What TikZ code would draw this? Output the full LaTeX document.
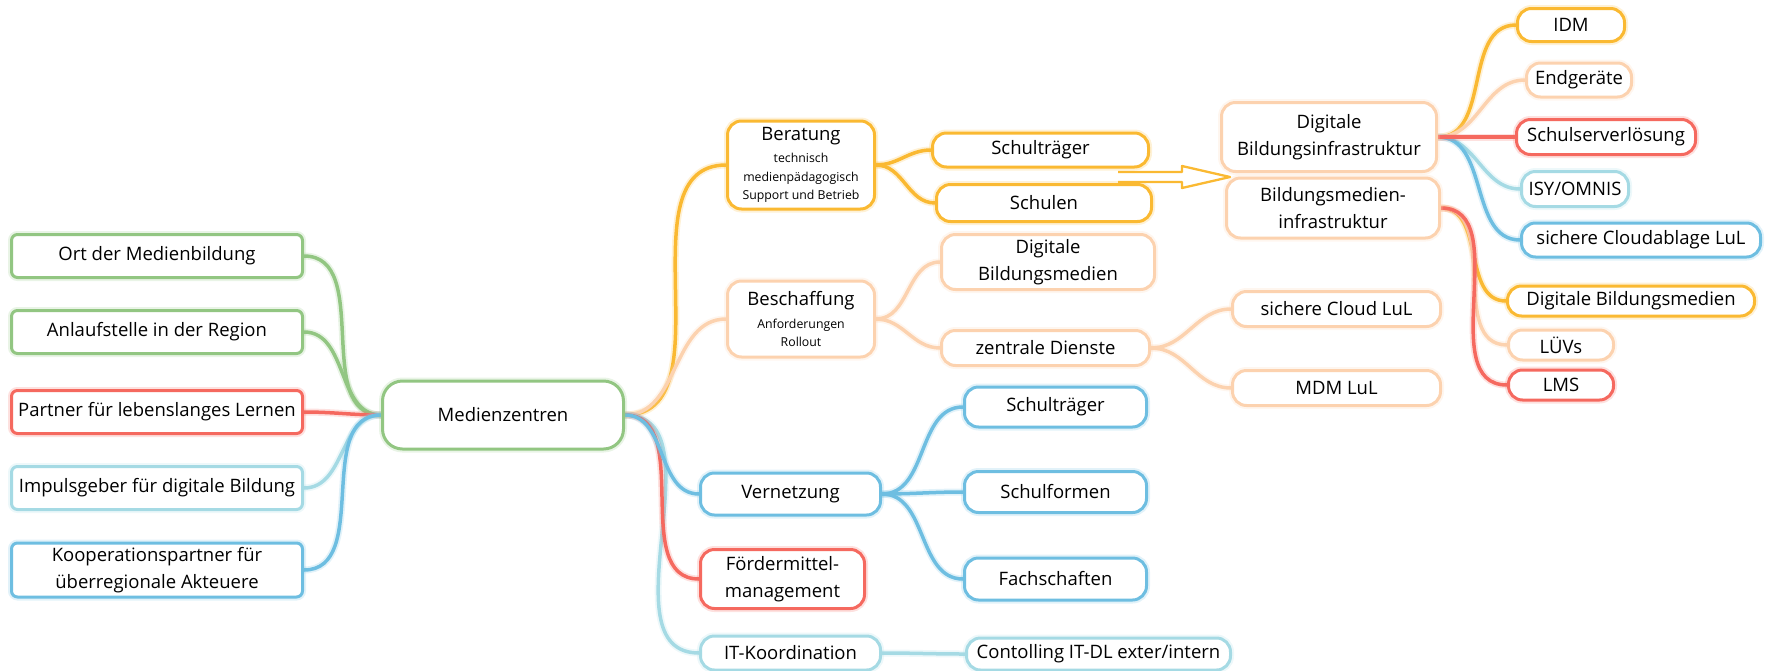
\documentclass[tikz,border=0pt]{standalone}
\usepackage{fontspec}
\setmainfont{Open Sans}
\usetikzlibrary{backgrounds}

\definecolor{gruen}{RGB}{146,198,130}
\definecolor{rot}{RGB}{245,105,95}
\definecolor{hellblau}{RGB}{165,218,228}
\definecolor{blau}{RGB}{110,190,225}
\definecolor{gelb}{RGB}{250,185,50}
\definecolor{pfirsich}{RGB}{252,210,175}

\newcommand{\gross}{\fontsize{18.5}{27}\selectfont}
\newcommand{\klein}{\fontsize{12.3}{18.5}\selectfont}

\begin{document}
\begin{tikzpicture}[x=1pt, y=-1pt, line width=3pt, font=\gross,
	rahmen/.style = {draw=#1, preaction={draw=#1, line width=7pt, draw opacity=0.2}},
	box/.style = {rounded corners=14pt, fill=white, align=center, inner sep=0pt, anchor=west},
	seite/.style = {rounded corners=6pt, fill=white, align=center, inner sep=0pt, minimum width=291pt},
	astr/.style = {line width=3.5pt, out=0, in=180},
	astl/.style = {line width=3.5pt, out=180, in=0}]
		\useasboundingbox (0,0) rectangle (1767,670);
		
		%Left column of the map
		\node[seite, rahmen=gruen, minimum height=43pt] (ort) at (157,256) {Ort der Medienbildung};
		\node[seite, rahmen=gruen, minimum height=43pt] (anl) [node distance=76pt, below of=ort] {Anlaufstelle in der Region};
		\node[seite, rahmen=rot, minimum height=43pt] (part) [node distance=80pt, below of=anl] {Partner für lebenslanges Lernen};
		\node[seite, rahmen=hellblau, minimum height=43pt] (imp) [node distance=76pt, below of=part] {Impulsgeber für digitale Bildung};
		\node[seite, rahmen=blau, minimum height=54pt] (koop) [node distance=82pt, below of=imp] {Kooperationspartner für\\überregionale Akteuere};
		
		%Center
		\node[box, rahmen=gruen, minimum width=241pt, minimum height=68pt, rounded corners=20pt] (mz) at (381,415) {Medienzentren};
		
		%Second level
		\node[box, rahmen=gelb, font=\klein, minimum width=147pt, minimum height=88pt] (ber) at (726,165) {{\gross Beratung}\\[4pt]technisch\\medienpädagogisch\\Support und Betrieb};
		\node[box, rahmen=pfirsich, font=\klein, minimum width=147pt, minimum height=76pt] (bes) at (726,319) {{\gross Beschaffung}\\[4pt]Anforderungen\\Rollout};
		\node[box, rahmen=blau, minimum width=180pt, minimum height=42pt] (ver) at (699,494) {Vernetzung};
		\node[box, rahmen=rot, minimum width=164pt, minimum height=59pt] (foe) at (699,579) {Fördermittel-\\management};
		\node[box, rahmen=hellblau, minimum width=180pt, minimum height=34pt] (it) at (699,653) {IT-Koordination};
		
		%Third level
		\node[box, rahmen=gelb, minimum width=216pt, minimum height=34pt] (stA) at (931,150) {Schulträger};
		\node[box, rahmen=gelb, minimum width=215pt, minimum height=37pt] (sch) at (935,203) {Schulen};
		\node[box, rahmen=pfirsich, minimum width=213pt, minimum height=55pt] (dbm) at (940,262) {Digitale\\Bildungsmedien};
		\node[box, rahmen=pfirsich, minimum width=208pt, minimum height=35pt] (zd) at (940,348) {zentrale Dienste};
		\node[box, rahmen=blau, minimum width=182pt, minimum height=40pt] (stB) at (963,407) {Schulträger};
		\node[box, rahmen=blau, minimum width=182pt, minimum height=41pt] (sf) at (963,492) {Schulformen};
		\node[box, rahmen=blau, minimum width=182pt, minimum height=42pt] (fs) at (963,579) {Fachschaften};
		\node[box, rahmen=hellblau, minimum width=264pt, minimum height=32pt] (ctl) at (965,654) {Contolling IT-DL exter/intern};
		
		%Fourth level
		\node[box, rahmen=pfirsich, minimum width=215pt, minimum height=69pt] (dbi) at (1220,137) {Digitale\\Bildungsinfrastruktur};
		\node[box, rahmen=pfirsich, minimum width=213pt, minimum height=60pt] (bmi) at (1225,208) {Bildungsmedien-\\infrastruktur};
		\node[box, rahmen=pfirsich, minimum width=208pt, minimum height=35pt] (scl) at (1231,309) {sichere Cloud LuL};
		\node[box, rahmen=pfirsich, minimum width=208pt, minimum height=35pt] (mdm) at (1231,388) {MDM LuL};
		
		%Fifth level
		\node[box, rahmen=gelb, minimum width=107pt, minimum height=33pt] (idm) at (1516,25) {IDM};
		\node[box, rahmen=pfirsich, minimum width=105pt, minimum height=34pt] (eg) at (1525,80) {Endgeräte};
		\node[box, rahmen=rot, minimum width=179pt, minimum height=35pt] (ssv) at (1515,137) {Schulserverlösung};
		\node[box, rahmen=hellblau, minimum width=107pt, minimum height=35pt] (isy) at (1520,189) {ISY/OMNIS};
		\node[box, rahmen=blau, minimum width=239pt, minimum height=34pt] (cab) at (1520,240) {sichere Cloudablage LuL};
		\node[box, rahmen=gelb, minimum width=247pt, minimum height=30pt] (dbmB) at (1506,301) {Digitale Bildungsmedien};
		\node[box, rahmen=pfirsich, minimum width=105pt, minimum height=30pt] (luv) at (1507,345) {LÜVs};
		\node[box, rahmen=rot, minimum width=105pt, minimum height=30pt] (lms) at (1507,385) {LMS};
		
		%Hollow arrow Schultraeger -> Infrastruktur
		\coordinate (pfeil) at (1118,177);
		\draw[gelb, line width=2.3pt, fill=white, line join=round] (pfeil) ++(0,-5) -- ++(64,0) -- ++(0,-6) -- ++(48,11) -- ++(-48,11) -- ++(0,-6) -- ++(-64,0);
		
		\begin{scope}[on background layer]
		%Branches left of Medienzentren
		\draw[astl, rahmen=gruen] (mz.west) to (ort.east); %Medienzentren -> Ort
		\draw[astl, rahmen=gruen] (mz.west) to (anl.east); %Medienzentren -> Anlaufstelle
		\draw[astl, rahmen=rot] (mz.west) to (part.east); %Medienzentren -> Partner
		\draw[astl, rahmen=hellblau] (mz.west) to (imp.east); %Medienzentren -> Impulsgeber
		\draw[astl, rahmen=blau] (mz.west) to (koop.east); %Medienzentren -> Kooperation
		
		%Branches right of Medienzentren
		\draw[astr, rahmen=gelb] (mz.east) to (ber.west);
		\draw[astr, rahmen=pfirsich] (mz.east) to (bes.west);
		\draw[astr, rahmen=hellblau] (mz.east) to (it.west);
		\draw[astr, rahmen=rot] (mz.east) to (foe.west);
		\draw[astr, rahmen=blau] (mz.east) to (ver.west);
		
		\draw[astr, rahmen=gelb] (ber.east) to (stA.west);
		\draw[astr, rahmen=gelb] (ber.east) to (sch.west);
		\draw[astr, rahmen=pfirsich] (bes.east) to (dbm.west);
		\draw[astr, rahmen=pfirsich] (bes.east) to (zd.west);
		\draw[astr, rahmen=pfirsich] (zd.east) to (scl.west);
		\draw[astr, rahmen=pfirsich] (zd.east) to (mdm.west);
		\draw[astr, rahmen=blau] (ver.east) to (stB.west);
		\draw[astr, rahmen=blau] (ver.east) to (sf.west);
		\draw[astr, rahmen=blau] (ver.east) to (fs.west);
		\draw[astr, rahmen=hellblau] (it.east) to (ctl.west);
		
		\draw[astr, rahmen=gelb] (dbi.east) to (idm.west);
		\draw[astr, rahmen=pfirsich] (dbi.east) to (eg.west);
		\draw[astr, rahmen=hellblau] (dbi.east) to (isy.west);
		\draw[astr, rahmen=blau] (dbi.east) to (cab.west);
		\draw[astr, rahmen=rot] (dbi.east) to (ssv.west);
		\draw[astr, rahmen=gelb] (bmi.east) to (dbmB.west);
		\draw[astr, rahmen=pfirsich] (bmi.east) to (luv.west);
		\draw[astr, rahmen=rot] (bmi.east) to (lms.west);
		\end{scope}
		
	\end{tikzpicture}
\end{document}
